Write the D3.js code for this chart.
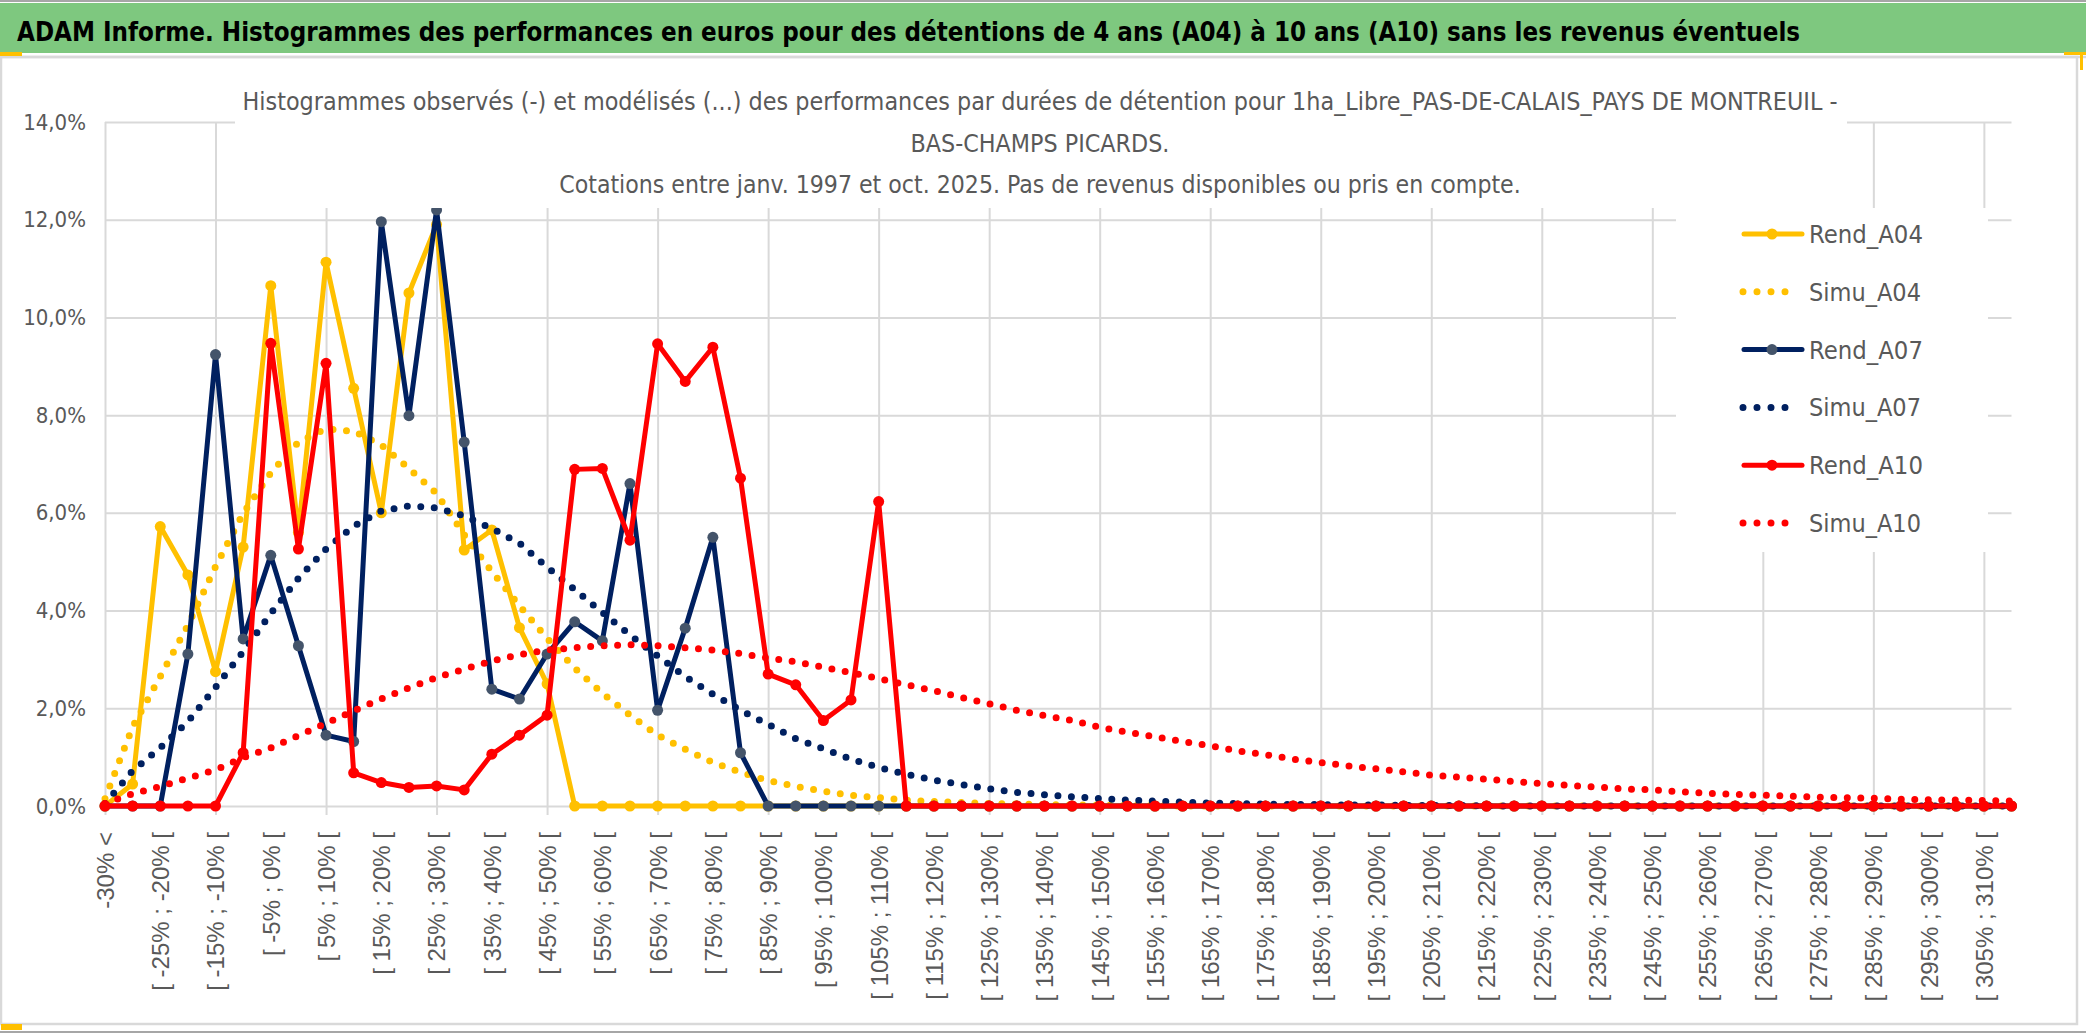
<html>
<head>
  <meta charset="utf-8">
  <script src="https://d3js.org/d3.v7.min.js"></script>
  <style>
    body { margin: 0; background: #fff; }
    svg text { fill: #595959; }
  </style>
</head>
<body>
  <div id="chart"></div>
  <script>
    // categories (classes de performance)
    const categories = [
      "-30% <", "[ -30% ; -25% [", "[ -25% ; -20% [", "[ -20% ; -15% [", "[ -15% ; -10% [", "[ -10% ; -5% [",
      "[ -5% ; 0% [", "[ 0% ; 5% [", "[ 5% ; 10% [", "[ 10% ; 15% [", "[ 15% ; 20% [", "[ 20% ; 25% [",
      "[ 25% ; 30% [", "[ 30% ; 35% [", "[ 35% ; 40% [", "[ 40% ; 45% [", "[ 45% ; 50% [", "[ 50% ; 55% [",
      "[ 55% ; 60% [", "[ 60% ; 65% [", "[ 65% ; 70% [", "[ 70% ; 75% [", "[ 75% ; 80% [", "[ 80% ; 85% [",
      "[ 85% ; 90% [", "[ 90% ; 95% [", "[ 95% ; 100% [", "[ 100% ; 105% [", "[ 105% ; 110% [", "[ 110% ; 115% [",
      "[ 115% ; 120% [", "[ 120% ; 125% [", "[ 125% ; 130% [", "[ 130% ; 135% [", "[ 135% ; 140% [", "[ 140% ; 145% [",
      "[ 145% ; 150% [", "[ 150% ; 155% [", "[ 155% ; 160% [", "[ 160% ; 165% [", "[ 165% ; 170% [", "[ 170% ; 175% [",
      "[ 175% ; 180% [", "[ 180% ; 185% [", "[ 185% ; 190% [", "[ 190% ; 195% [", "[ 195% ; 200% [", "[ 200% ; 205% [",
      "[ 205% ; 210% [", "[ 210% ; 215% [", "[ 215% ; 220% [", "[ 220% ; 225% [", "[ 225% ; 230% [", "[ 230% ; 235% [",
      "[ 235% ; 240% [", "[ 240% ; 245% [", "[ 245% ; 250% [", "[ 250% ; 255% [", "[ 255% ; 260% [", "[ 260% ; 265% [",
      "[ 265% ; 270% [", "[ 270% ; 275% [", "[ 275% ; 280% [", "[ 280% ; 285% [", "[ 285% ; 290% [", "[ 290% ; 295% [",
      "[ 295% ; 300% [", "[ 300% ; 305% [", "[ 305% ; 310% [", "[ 310% ; 315% ["
    ];

    // values in %
    const rendA04 = [
      0, 0.45, 5.72, 4.73, 2.75, 5.3, 10.65, 5.6, 11.13, 8.55, 6.0, 10.5, 11.9, 5.24, 5.65, 3.65, 2.5, 0, 0, 0,
      0, 0, 0, 0, 0, 0, 0, 0, 0, 0, 0, 0, 0, 0, 0, 0, 0, 0, 0, 0,
      0, 0, 0, 0, 0, 0, 0, 0, 0, 0, 0, 0, 0, 0, 0, 0, 0, 0, 0, 0,
      0, 0, 0, 0, 0, 0, 0, 0, 0, 0
    ];
    const simuA04 = [
      0.15, 1.62, 2.65, 3.7, 4.9, 5.99, 6.82, 7.45, 7.72, 7.67, 7.39, 6.91, 6.4, 5.55, 4.8, 4.1, 3.43, 2.82, 2.31, 1.86,
      1.45, 1.16, 0.89, 0.69, 0.52, 0.4, 0.3, 0.22, 0.17, 0.12, 0.09, 0.07, 0.05, 0.04, 0.03, 0.02, 0.02, 0.01, 0.01, 0,
      0, 0, 0, 0, 0, 0, 0, 0, 0, 0, 0, 0, 0, 0, 0, 0, 0, 0, 0, 0,
      0, 0, 0, 0, 0, 0, 0, 0, 0, 0
    ];
    const rendA07 = [
      0, 0, 0, 3.11, 9.24, 3.42, 5.13, 3.28, 1.45, 1.32, 11.96, 7.99, 12.2, 7.45, 2.39, 2.19, 3.11, 3.77, 3.38, 6.6,
      1.96, 3.64, 5.5, 1.09, 0, 0, 0, 0, 0, 0, 0, 0, 0, 0, 0, 0, 0, 0, 0, 0,
      0, 0, 0, 0, 0, 0, 0, 0, 0, 0, 0, 0, 0, 0, 0, 0, 0, 0, 0, 0,
      0, 0, 0, 0, 0, 0, 0, 0, 0, 0
    ];
    const simuA07 = [
      0.05, 0.72, 1.19, 1.73, 2.43, 3.16, 3.94, 4.66, 5.26, 5.73, 6.04, 6.14, 6.1, 5.94, 5.68, 5.38, 4.89, 4.43, 3.96, 3.5,
      3.07, 2.65, 2.29, 1.96, 1.67, 1.38, 1.17, 0.96, 0.79, 0.65, 0.53, 0.44, 0.35, 0.28, 0.23, 0.19, 0.15, 0.12, 0.1, 0.08,
      0.06, 0.05, 0.04, 0.03, 0.03, 0.02, 0.02, 0.01, 0.01, 0.01, 0, 0, 0, 0, 0, 0, 0, 0, 0, 0,
      0, 0, 0, 0, 0, 0, 0, 0, 0, 0
    ];
    const rendA10 = [
      0, 0, 0, 0, 0, 1.09, 9.47, 5.26, 9.06, 0.68, 0.48, 0.38, 0.41, 0.33, 1.06, 1.45, 1.86, 6.89, 6.91, 5.44,
      9.46, 8.69, 9.39, 6.71, 2.7, 2.48, 1.75, 2.17, 6.23, 0, 0, 0, 0, 0, 0, 0, 0, 0, 0, 0,
      0, 0, 0, 0, 0, 0, 0, 0, 0, 0, 0, 0, 0, 0, 0, 0, 0, 0, 0, 0,
      0, 0, 0, 0, 0, 0, 0, 0, 0, 0
    ];
    const simuA10 = [
      0.05, 0.25, 0.4, 0.57, 0.74, 0.99, 1.19, 1.44, 1.69, 1.95, 2.19, 2.42, 2.63, 2.8, 2.97, 3.1, 3.19, 3.24, 3.28, 3.3,
      3.28, 3.24, 3.19, 3.12, 3.03, 2.95, 2.84, 2.73, 2.61, 2.48, 2.36, 2.22, 2.09, 1.96, 1.85, 1.75, 1.61, 1.51, 1.42, 1.32,
      1.23, 1.13, 1.05, 0.96, 0.89, 0.82, 0.76, 0.7, 0.63, 0.59, 0.55, 0.5, 0.46, 0.42, 0.39, 0.35, 0.33, 0.29, 0.26, 0.24,
      0.22, 0.2, 0.18, 0.17, 0.16, 0.14, 0.13, 0.12, 0.11, 0.1
    ];

    const yTicks = [0, 2, 4, 6, 8, 10, 12, 14];

    const seriesNames = ["Rend_A04", "Simu_A04", "Rend_A07", "Simu_A07", "Rend_A10", "Simu_A10"];
    const seriesValues = [rendA04, simuA04, rendA07, simuA07, rendA10, simuA10];

    const headerText = "ADAM Informe. Histogrammes des performances en euros pour des détentions de 4 ans (A04) à 10 ans (A10) sans les revenus éventuels";
    const titleLines = [
      "Histogrammes observés (-) et modélisés (...) des performances  par durées de détention pour 1ha_Libre_PAS-DE-CALAIS_PAYS DE MONTREUIL -",
      "BAS-CHAMPS PICARDS.",
      "Cotations entre janv. 1997 et oct. 2025. Pas de revenus disponibles ou pris en compte."
    ];

    // styles
    const styles = {
      Rend_A04: { color: "#FFC000", marker: "#FFC000", dotted: false },
      Simu_A04: { color: "#FFC000", dotted: true },
      Rend_A07: { color: "#002060", marker: "#44546A", dotted: false },
      Simu_A07: { color: "#002060", dotted: true },
      Rend_A10: { color: "#FF0000", marker: "#FF0000", dotted: false },
      Simu_A10: { color: "#FF0000", dotted: true }
    };

    const width = 2086, height = 1033;
    const plot = { left: 105, right: 2011.5, top: 122, bottom: 806 };
    const narrow = "'Liberation Sans Narrow', 'Arial Narrow', 'DejaVu Sans Condensed', sans-serif";
    const gridColor = "#D9D9D9";

    // pick a font size so the text is about `target` px wide
    function fitText(sel, target, maxSize) {
      sel.each(function () {
        const t = d3.select(this);
        const w = this.getComputedTextLength();
        const fs = +t.attr("font-size");
        t.attr("font-size", Math.min(maxSize, fs * target / w).toFixed(2));
      });
    }

    const svg = d3.select("#chart").append("svg")
      .attr("width", width)
      .attr("height", height);

    svg.append("rect").attr("width", width).attr("height", height).attr("fill", "#fff");

    // header band
    svg.append("rect").attr("x", 0).attr("y", 0).attr("width", width).attr("height", 2).attr("fill", "#A6A6A6");
    svg.append("rect").attr("x", 0).attr("y", 3).attr("width", width).attr("height", 50).attr("fill", "#7EC87F");
    svg.append("text")
      .attr("x", 17).attr("y", 41)
      .attr("font-family", narrow)
      .attr("font-weight", "bold")
      .attr("font-size", 30)
      .style("fill", "#000")
      .text(headerText)
      .call(fitText, 1784, 33);

    // chart frame
    svg.append("rect")
      .attr("x", 1).attr("y", 57).attr("width", 2076).attr("height", 967)
      .attr("fill", "none").attr("stroke", gridColor).attr("stroke-width", 2.5);
    svg.append("line").attr("x1", 0).attr("x2", width).attr("y1", 57).attr("y2", 57)
      .attr("stroke", gridColor).attr("stroke-width", 2.5);
    svg.append("line").attr("x1", 0).attr("x2", width).attr("y1", 1032).attr("y2", 1032)
      .attr("stroke", "#A6A6A6").attr("stroke-width", 2);
    // selection handles
    svg.append("rect").attr("x", 0).attr("y", 52).attr("width", 22).attr("height", 4).attr("fill", "#FFC000");
    svg.append("rect").attr("x", 2064).attr("y", 52).attr("width", 22).attr("height", 3).attr("fill", "#FFC000");
    svg.append("rect").attr("x", 2080).attr("y", 52).attr("width", 3).attr("height", 18).attr("fill", "#FFC000");
    svg.append("rect").attr("x", 1).attr("y", 1024).attr("width", 21).attr("height", 6).attr("fill", "#FFC000");

    const x = d3.scalePoint()
      .domain(categories)
      .range([plot.left, plot.right]);

    const y = d3.scaleLinear()
      .domain([0, 14])
      .range([plot.bottom, plot.top]);

    // horizontal gridlines + y labels
    const yAxis = svg.append("g")
      .attr("transform", `translate(${plot.left},0)`)
      .call(d3.axisLeft(y)
        .tickValues(yTicks)
        .tickSize(-(plot.right - plot.left))
        .tickPadding(19)
        .tickFormat(d => d.toFixed(1).replace(".", ",") + "%"));
    yAxis.select(".domain").remove();
    yAxis.selectAll("line").attr("stroke", gridColor).attr("stroke-width", 2);
    yAxis.selectAll("text")
      .attr("font-family", narrow)
      .attr("font-size", 22)
      .style("fill", "#595959");

    // vertical gridlines (every 4 classes), prolonged as tick marks
    const xGrid = svg.append("g")
      .attr("transform", `translate(0,${plot.bottom + 9})`)
      .call(d3.axisBottom(x)
        .tickValues(categories.filter((d, i) => i % 4 === 0))
        .tickSize(-(plot.bottom + 9 - plot.top))
        .tickFormat(""));
    xGrid.select(".domain").remove();
    xGrid.selectAll("line").attr("stroke", gridColor).attr("stroke-width", 2);

    // x labels (every 2 classes), rotated
    const xLabels = svg.append("g")
      .attr("transform", `translate(0,${plot.bottom})`)
      .call(d3.axisBottom(x)
        .tickValues(categories.filter((d, i) => i % 2 === 0))
        .tickSize(0)
        .tickPadding(0));
    xLabels.select(".domain").remove();
    xLabels.selectAll("text")
      .attr("font-family", "'Liberation Sans', Arial, sans-serif")
      .attr("font-size", 24)
      .attr("text-anchor", "end")
      .attr("transform", "translate(0,26) rotate(-90)")
      .attr("x", 0)
      .attr("y", 0)
      .attr("dy", "0.35em")
      .style("fill", "#595959");

    // series
    const line = d3.line()
      .x((d, i) => x(categories[i]))
      .y(d => y(d));

    const seriesG = svg.append("g");
    seriesNames.forEach((name, k) => {
      const st = styles[name];
      const vals = seriesValues[k];
      const path = seriesG.append("path")
        .datum(vals)
        .attr("fill", "none")
        .attr("stroke", st.color)
        .attr("d", line);
      if (st.dotted) {
        path.attr("stroke-width", 7)
          .attr("stroke-linecap", "round")
          .attr("stroke-dasharray", "0 13.5");
      } else {
        path.attr("stroke-width", 5)
          .attr("stroke-linejoin", "round")
          .attr("stroke-linecap", "round");
        seriesG.append("g")
          .selectAll("circle")
          .data(vals)
          .join("circle")
            .attr("cx", (d, i) => x(categories[i]))
            .attr("cy", d => y(d))
            .attr("r", 5.5)
            .attr("fill", st.marker);
      }
    });

    // chart title (white box over the plot)
    svg.append("rect")
      .attr("x", 235).attr("y", 60).attr("width", 1612).attr("height", 148)
      .attr("fill", "#fff");
    const titleY = [110, 152, 193];
    const titleW = [1595, 259, 962];
    svg.append("g")
      .selectAll("text")
      .data(titleLines)
      .join("text")
        .attr("x", 1040)
        .attr("y", (d, i) => titleY[i])
        .attr("text-anchor", "middle")
        .attr("font-family", narrow)
        .attr("font-size", 28)
        .text(d => d)
        .each(function (d, i) { d3.select(this).call(fitText, titleW[i], 29); });

    // legend
    svg.append("rect")
      .attr("x", 1676).attr("y", 208).attr("width", 312).attr("height", 344)
      .attr("fill", "#fff");
    const legendY = d3.scalePoint().domain(seriesNames).range([234, 523]);
    const leg = svg.append("g")
      .selectAll("g")
      .data(seriesNames)
      .join("g")
        .attr("transform", d => `translate(0,${legendY(d)})`);
    leg.each(function (name) {
      const g = d3.select(this);
      const st = styles[name];
      if (st.dotted) {
        g.append("line")
          .attr("x1", 1743).attr("x2", 1799)
          .attr("stroke", st.color)
          .attr("stroke-width", 7)
          .attr("stroke-linecap", "round")
          .attr("stroke-dasharray", "0 14");
      } else {
        g.append("line")
          .attr("x1", 1744).attr("x2", 1802)
          .attr("stroke", st.color)
          .attr("stroke-width", 5)
          .attr("stroke-linecap", "round");
        g.append("circle")
          .attr("cx", 1772).attr("r", 5.5)
          .attr("fill", st.marker);
      }
      g.append("text")
        .attr("x", 1809)
        .attr("dy", "0.36em")
        .attr("font-family", narrow)
        .attr("font-size", 30)
        .text(name)
        .call(fitText, name.startsWith("Rend") ? 114 : 112, 31);
    });
  </script>
</body>
</html>
